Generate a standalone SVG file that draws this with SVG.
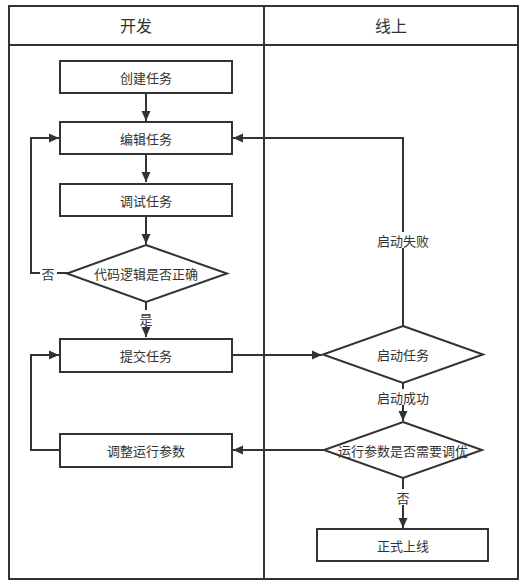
<svg xmlns="http://www.w3.org/2000/svg" width="525" height="586" viewBox="0 0 525 586">
<style>
.frame{fill:none;stroke:#333;stroke-width:2}
.node{fill:#fff;stroke:#333;stroke-width:2}
.edge{fill:none;stroke:#333;stroke-width:2}
text{font-family:"Noto Sans CJK SC","Liberation Sans",sans-serif;fill:#333;text-anchor:middle;dominant-baseline:central}
.hd{font-size:16px}
.t{font-size:13px}
.lb{fill:#fff;stroke:none}
</style>
<defs>
<marker id="arr" markerUnits="userSpaceOnUse" markerWidth="11" markerHeight="10" refX="10" refY="5" orient="auto">
<path d="M0,0.5 L10,5 L0,9.5 z" fill="#333"/>
</marker>
</defs>
<g id="lanes">
<rect class="frame" x="9" y="6" width="509" height="573"/>
<line class="frame" x1="9" y1="45" x2="518" y2="45"/>
<line class="frame" x1="264" y1="6" x2="264" y2="579"/>
<text class="hd" x="136" y="25">开发</text>
<text class="hd" x="391" y="25">线上</text>
</g>
<g id="connectors">
<path class="edge" d="M146,93 V121" marker-end="url(#arr)"/>
<path class="edge" d="M146,154 V182" marker-end="url(#arr)"/>
<path class="edge" d="M146,216 V244" marker-end="url(#arr)"/>
<path class="edge" d="M146,302 V337" marker-end="url(#arr)"/>
<path class="edge" d="M68,273 H31 V138 H59" marker-end="url(#arr)"/>
<path class="edge" d="M60,450 H31 V355 H59" marker-end="url(#arr)"/>
<path class="edge" d="M232,355 H322" marker-end="url(#arr)"/>
<path class="edge" d="M403,326 V138 H233" marker-end="url(#arr)"/>
<path class="edge" d="M403,383 V421" marker-end="url(#arr)"/>
<path class="edge" d="M324,450 H233" marker-end="url(#arr)"/>
<path class="edge" d="M403,478 V528" marker-end="url(#arr)"/>
<rect class="lb" x="40" y="265" width="17" height="16"/>
<text class="t" x="48" y="273">否</text>
<rect class="lb" x="138" y="310" width="16" height="16"/>
<text class="t" x="146" y="318">是</text>
<rect class="lb" x="375" y="232" width="56" height="16"/>
<text class="t" x="403" y="240">启动失败</text>
<rect class="lb" x="375" y="389" width="56" height="16"/>
<text class="t" x="403" y="397">启动成功</text>
<rect class="lb" x="395" y="489" width="16" height="16"/>
<text class="t" x="403" y="497">否</text>
</g>
<g id="n-create"><rect class="node" x="60" y="61" width="172" height="32"/><text class="t" x="146" y="77">创建任务</text></g>
<g id="n-edit"><rect class="node" x="60" y="122" width="172" height="32"/><text class="t" x="146" y="138">编辑任务</text></g>
<g id="n-debug"><rect class="node" x="60" y="184" width="172" height="32"/><text class="t" x="146" y="200">调试任务</text></g>
<g id="n-check"><polygon class="node" points="146,245 227,273.5 146,302 67,273.5"/><text class="t" x="146" y="273.5">代码逻辑是否正确</text></g>
<g id="n-submit"><rect class="node" x="60" y="339" width="172" height="33"/><text class="t" x="146" y="355">提交任务</text></g>
<g id="n-adjust"><rect class="node" x="60" y="434" width="172" height="33"/><text class="t" x="146" y="450">调整运行参数</text></g>
<g id="n-start"><polygon class="node" points="403,326 483,354.5 403,383 323,354.5"/><text class="t" x="403" y="354.5">启动任务</text></g>
<g id="n-tune"><polygon class="node" points="403,422 482,450 403,478 324,450"/><text class="t" x="403" y="450">运行参数是否需要调优</text></g>
<g id="n-online"><rect class="node" x="317" y="529" width="171" height="32"/><text class="t" x="403" y="545">正式上线</text></g>
</svg>
